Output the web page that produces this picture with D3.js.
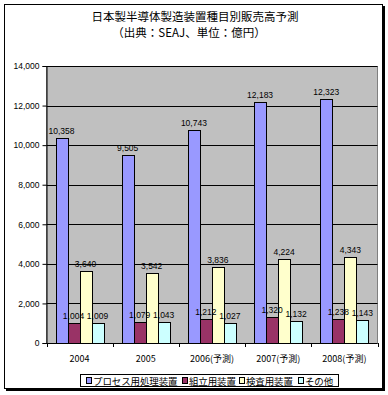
<!DOCTYPE html>
<html>
<head>
<meta charset="utf-8">
<script src="https://cdn.jsdelivr.net/npm/d3@7"></script>
<style>
  body { margin: 0; background: #fff; }
  svg text { font-family: "Liberation Sans", Arial, sans-serif; }
  .jp { font-family: "Noto Sans CJK JP", sans-serif; }
</style>
</head>
<body>
<div id="chart"></div>
<script>
var categories = ["2004", "2005", "2006(予測)", "2007(予測)", "2008(予測)"];
var seriesNames = ["プロセス用処理装置", "組立用装置", "検査用装置", "その他"];
var seriesColors = ["#9999ff", "#993366", "#ffffcc", "#ccffff"];
var processValues = [10358, 9505, 10743, 12183, 12323];
var assemblyValues = [1004, 1079, 1212, 1320, 1238];
var inspectionValues = [3640, 3542, 3836, 4224, 4343];
var otherValues = [1009, 1043, 1027, 1132, 1143];
var yTicks = [0, 2000, 4000, 6000, 8000, 10000, 12000, 14000];

var series = [processValues, assemblyValues, inspectionValues, otherValues];

var W = 388, H = 395;
var svg = d3.select("#chart").append("svg")
    .attr("width", W)
    .attr("height", H);

// outer frame with shadow
svg.append("rect").attr("x", 6).attr("y", 6).attr("width", 379).attr("height", 385).attr("fill", "#000");
svg.append("rect").attr("x", 4.5).attr("y", 4.5).attr("width", 378).attr("height", 384)
    .attr("fill", "#fff").attr("stroke", "#000");

// title
svg.append("text").attr("class", "jp")
    .attr("x", 195).attr("y", 21)
    .attr("text-anchor", "middle").attr("font-size", 11.5)
    .text("日本製半導体製造装置種目別販売高予測");
svg.append("text").attr("class", "jp")
    .attr("x", 189).attr("y", 37)
    .attr("text-anchor", "middle").attr("font-size", 11.5)
    .text("（出典：SEAJ、単位：億円）");

var plotL = 46.5, plotR = 377.5, plotT = 66, plotB = 343;

var x = d3.scaleBand().domain(categories).range([plotL, plotR]).padding(0);
var xs = d3.scaleBand().domain(d3.range(4)).range([9, 57]).padding(0);
var y = d3.scaleLinear().domain([0, 14000]).range([plotB, plotT]);

var g = svg.append("g");

g.append("rect")
    .attr("x", plotL).attr("y", plotT + 0.5)
    .attr("width", plotR - plotL).attr("height", plotB - plotT)
    .attr("fill", "#c0c0c0").attr("stroke", "#808080");

// gridlines
g.selectAll(".grid").data(yTicks.slice(1))
  .enter().append("line")
    .attr("x1", plotL).attr("x2", plotR)
    .attr("y1", function(d) { return Math.round(y(d)) + 0.5; })
    .attr("y2", function(d) { return Math.round(y(d)) + 0.5; })
    .attr("stroke", "#000");

// bars
series.forEach(function(vals, si) {
  g.selectAll(".bar" + si).data(vals)
    .enter().append("rect")
      .attr("x", function(d, i) { return Math.round(x(categories[i]) + xs(si)) + 0.5; })
      .attr("y", function(d) { return Math.round(y(d)) + 0.5; })
      .attr("width", xs.bandwidth())
      .attr("height", function(d) { return Math.round(y(0)) - Math.round(y(d)); })
      .attr("fill", seriesColors[si])
      .attr("stroke", "#000");
});

// value labels
series.forEach(function(vals, si) {
  g.selectAll(".lab" + si).data(vals)
    .enter().append("text")
      .attr("x", function(d, i) { return x(categories[i]) + xs(si) + xs.bandwidth() / 2; })
      .attr("y", function(d) { return y(d) - 4; })
      .attr("text-anchor", "middle")
      .attr("font-size", 8.5)
      .text(function(d) { return d3.format(",")(d); });
});

// y axis
var yAxis = svg.append("g")
    .attr("transform", "translate(" + plotL + ",0)")
    .call(d3.axisLeft(y).tickValues(yTicks).tickSize(4).tickFormat(d3.format(",")));
yAxis.select(".domain").attr("stroke", "#000");
yAxis.selectAll("text").attr("font-size", 8.5).attr("font-family", "Liberation Sans, Arial, sans-serif").attr("fill", "#000");

// x axis: line + ticks at category boundaries
svg.append("line").attr("x1", plotL).attr("x2", plotR)
    .attr("y1", plotB + 0.5).attr("y2", plotB + 0.5).attr("stroke", "#000");
var bounds = categories.map(function(c) { return x(c); }).concat([plotR]);
svg.selectAll(".xt").data(bounds)
  .enter().append("line")
    .attr("x1", function(d) { return Math.round(d) + 0.5; })
    .attr("x2", function(d) { return Math.round(d) + 0.5; })
    .attr("y1", plotB).attr("y2", plotB + 4)
    .attr("stroke", "#000");
svg.selectAll(".xl").data(categories)
  .enter().append("text")
    .attr("class", "jp")
    .attr("x", function(d) { return x(d) + x.bandwidth() / 2; })
    .attr("y", 362)
    .attr("text-anchor", "middle")
    .attr("font-size", 9)
    .text(function(d) { return d; });

// legend
var legend = svg.append("g");
legend.append("rect").attr("x", 80.5).attr("y", 374.5).attr("width", 258).attr("height", 12)
    .attr("fill", "#fff").attr("stroke", "#000");
var legX = [86, 182, 239, 298];
seriesNames.forEach(function(n, i) {
  legend.append("rect").attr("x", legX[i] + 0.5).attr("y", 377.5).attr("width", 5).attr("height", 6)
      .attr("fill", seriesColors[i]).attr("stroke", "#000");
  legend.append("text").attr("class", "jp")
      .attr("x", legX[i] + 7).attr("y", 384.5)
      .attr("font-size", 9.5)
      .attr("textLength", n.length * 9.4)
      .text(n);
});
</script>
</body>
</html>
